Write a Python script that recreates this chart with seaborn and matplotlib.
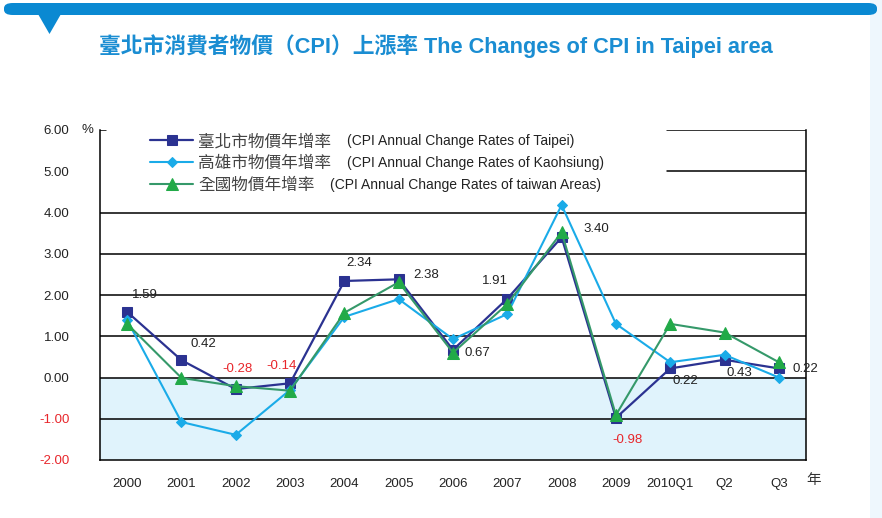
import numpy as np
import pandas as pd
import matplotlib
matplotlib.use("Agg")
import matplotlib.pyplot as plt
import seaborn as sns
from matplotlib.patches import FancyBboxPatch, Polygon, Rectangle

# ---------------- data ----------------
categories = ["2000", "2001", "2002", "2003", "2004", "2005", "2006",
              "2007", "2008", "2009", "2010Q1", "Q2", "Q3"]
taipei = [1.59, 0.42, -0.28, -0.14, 2.34, 2.38, 0.67, 1.91, 3.40, -0.98, 0.22, 0.43, 0.22]
kaohsiung = [1.39, -1.08, -1.39, -0.30, 1.47, 1.90, 0.93, 1.54, 4.18, 1.30, 0.37, 0.55, 0.00]
taiwan = [1.30, -0.01, -0.21, -0.32, 1.57, 2.31, 0.60, 1.78, 3.52, -0.91, 1.30, 1.09, 0.37]
taipei_labels = ["1.59", "0.42", "-0.28", "-0.14", "2.34", "2.38", "0.67",
                 "1.91", "3.40", "-0.98", "0.22", "0.43", "0.22"]
series_cn = ["臺北市物價年增率", "高雄市物價年增率", "全國物價年增率"]
series_en = ["(CPI Annual Change Rates of Taipei)",
             "(CPI Annual Change Rates of Kaohsiung)",
             "(CPI Annual Change Rates of taiwan Areas)"]
yticks = [-2, -1, 0, 1, 2, 3, 4, 5, 6]
ytick_labels = ["-2.00", "-1.00", "0.00", "1.00", "2.00", "3.00", "4.00", "5.00", "6.00"]
title = "臺北市消費者物價（CPI）上漲率 The Changes of CPI in Taipei area"
x_unit = "年"

# label offsets (pixels) relative to each Taipei point
label_offsets = [(18, 17), (22, 16), (2, 20), (-9, 17), (15, 18), (27, 4), (24, -3),
                 (-12, 18), (35, 8), (12, -22), (15, -13), (15, -13), (27, -1)]

# ---------------- style ----------------
sns.set_style("white")
plt.rcParams["font.family"] = ["Liberation Sans", "Noto Sans CJK TC", "DejaVu Sans"]

W, H = 882, 518
fig = plt.figure(figsize=(W / 100, H / 100), dpi=100)
fig.patch.set_facecolor("white")

# decorations
fig.patches.append(Rectangle((870 / W, 0), 12 / W, 1, transform=fig.transFigure,
                             facecolor="#EEF7FD", edgecolor="none", zorder=0))
fig.patches.append(FancyBboxPatch((4 / W, 1 - 15 / H), 873 / W, 12 / H,
                                  boxstyle="round,pad=0,rounding_size=0.01",
                                  transform=fig.transFigure, facecolor="#0A89D2",
                                  edgecolor="none", zorder=1))
fig.patches.append(Polygon([(38 / W, 1 - 14 / H), (61 / W, 1 - 14 / H), (49.5 / W, 1 - 34 / H)],
                           closed=True, transform=fig.transFigure, facecolor="#0A89D2",
                           edgecolor="none", zorder=1))

fig.text(436 / W, 1 - 46 / H, title, ha="center", va="center", fontsize=15.7,
         fontweight="bold", color="#1A8DD2",
         family=["Liberation Sans", "Noto Sans CJK TC"])

ax = fig.add_axes([100 / W, 58 / H, 706 / W, 330 / H])
ax.set_facecolor("white")

n = len(categories)
pos = np.arange(n)
ax.axhspan(-2, 0, color="#E0F3FC", zorder=0)

df = pd.DataFrame({"pos": pos, "taipei": taipei, "kaohsiung": kaohsiung, "taiwan": taiwan})

sns.lineplot(data=df, x="pos", y="taipei", ax=ax, color="#2B3291", lw=1.6,
             marker="s", markersize=7, markeredgecolor="#2B3291", label=series_cn[0], zorder=3)
sns.lineplot(data=df, x="pos", y="kaohsiung", ax=ax, color="#1AABE8", lw=1.5,
             marker="D", markersize=5.5, markeredgecolor="#1AABE8", label=series_cn[1], zorder=4)
sns.lineplot(data=df, x="pos", y="taiwan", ax=ax, color="#35996A", lw=1.5,
             marker="^", markersize=8.5, markerfacecolor="#22AA48",
             markeredgecolor="#22AA48", label=series_cn[2], zorder=5)

ax.set_xlim(-0.5, n - 0.5)
ax.set_ylim(-2, 6)

# grid lines
for yv in yticks[1:]:
    if yv >= 5:
        ax.axhline(yv, xmin=(667 - 100) / 706, xmax=1, color="black", lw=1.1, zorder=1)
    else:
        ax.axhline(yv, color="black", lw=1.1, zorder=1)
ax.axhline(6, xmin=0, xmax=6 / 706, color="black", lw=1.1, zorder=1)

for s in ["left", "right", "bottom"]:
    ax.spines[s].set_visible(True)
    ax.spines[s].set_color("black")
    ax.spines[s].set_linewidth(1.1)
ax.spines["top"].set_visible(False)

ax.set_yticks(yticks)
ax.set_yticklabels(ytick_labels)
for t, v in zip(ax.get_yticklabels(), yticks):
    t.set_color("#E8262B" if v < 0 else "#222222")
ax.tick_params(axis="y", length=0, pad=22, labelsize=9.5)
ax.set_xticks(pos)
ax.set_xticklabels(categories)
ax.set_xticks(pos[:-1] + 0.5, minor=True)
ax.tick_params(axis="x", which="major", length=0, pad=13, labelsize=9.5, colors="#222222")
ax.tick_params(axis="x", which="minor", length=10, width=1.0, direction="out", color="black")
ax.set_xlabel("")
ax.set_ylabel("")

fig.text(82 / W, 1 - 130 / H, "%", ha="left", va="center", fontsize=9.5, color="#222222")
fig.text(806 / W, 1 - 480 / H, x_unit, ha="left", va="center", fontsize=10.5,
         color="#333333", family=["Noto Sans CJK TC"])

# data labels
for i, (v, lab) in enumerate(zip(taipei, taipei_labels)):
    dx, dy = label_offsets[i]
    ax.annotate(lab, xy=(pos[i], v), xytext=(dx, dy), textcoords="offset pixels",
                ha="center", va="center", fontsize=9.5,
                color="#E8262B" if v < 0 else "#222222", zorder=6)

# legend
leg = ax.legend(loc="upper left", bbox_to_anchor=(50 / 706, 1 - 3 / 330), frameon=False,
                handlelength=2.6, handletextpad=0.3, labelspacing=0.30,
                borderaxespad=0, borderpad=0,
                prop={"family": ["Noto Sans CJK TC"], "size": 12})
for t in leg.get_texts():
    t.set_color("#444444")

en_x = [347, 347, 330]
en_y = [141, 163, 185]
for x0, y0, s in zip(en_x, en_y, series_en):
    fig.text(x0 / W, 1 - y0 / H, s, ha="left", va="center", fontsize=10, color="#222222")

fig.savefig("out.png", dpi=100)
